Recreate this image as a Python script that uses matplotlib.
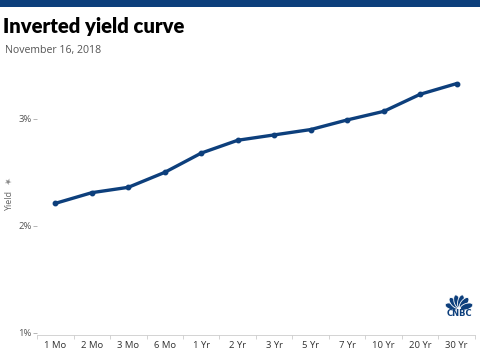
import matplotlib
matplotlib.use("Agg")
import matplotlib.pyplot as plt
from matplotlib.patches import Rectangle, Ellipse
import numpy as np

maturities = ["1 Mo", "2 Mo", "3 Mo", "6 Mo", "1 Yr", "2 Yr", "3 Yr", "5 Yr", "7 Yr", "10 Yr", "20 Yr", "30 Yr"]
yields = [2.21, 2.31, 2.36, 2.50, 2.68, 2.80, 2.85, 2.90, 2.99, 3.07, 3.23, 3.33]
ytick_vals = [1, 2, 3]
ytick_labels = ["1%", "2%", "3%"]
title = "Inverted yield curve"
subtitle = "November 16, 2018"

W, H = 480, 354
fig = plt.figure(figsize=(W / 100, H / 100), dpi=100)
fig.patch.set_facecolor("white")

# top bar
fig.patches.append(Rectangle((0, 1 - 7 / H), 1, 7 / H, transform=fig.transFigure,
                             facecolor="#0d3f7c", edgecolor="none"))

fig.text(3 / W, 1 - 27 / H, title, fontsize=14.6, fontweight="heavy", family="Lato",
         color="#000000", va="center", ha="left")
fig.text(5 / W, 1 - 50 / H, subtitle, fontsize=7.6, family="Open Sans",
         color="#555555", va="center", ha="left")

ax = fig.add_axes([37 / W, (H - 335) / H, (475 - 37) / W, (335 - 60) / H])
x = np.arange(len(maturities))
ax.plot(x, yields, color="#0d3f7c", lw=2.4, marker="o", ms=3.2,
        solid_capstyle="round", solid_joinstyle="round", zorder=3)
ax.set_xlim(-0.5, len(maturities) - 0.5)
ax.set_ylim(0.98, 3.55)

ax.set_xticks(x)
ax.set_xticklabels(maturities, fontsize=6.8, family="Open Sans", color="#333333")
ax.set_xticks(np.arange(-0.5, len(maturities), 1), minor=True)
ax.tick_params(axis="x", which="major", length=0, pad=4)
ax.tick_params(axis="x", which="minor", length=3, color="#cccccc", width=0.6)

ax.set_yticks(ytick_vals)
ax.set_yticklabels(ytick_labels, fontsize=6.8, family="Open Sans", color="#555555")
ax.tick_params(axis="y", length=3, color="#aaaaaa", width=0.6, pad=1)

for s in ["top", "right", "left"]:
    ax.spines[s].set_visible(False)
ax.spines["bottom"].set_color("#cccccc")
ax.spines["bottom"].set_linewidth(0.6)

fig.text(10 / W, 1 - 201 / H, "Yield", rotation=90, fontsize=6.5, family="Open Sans",
         color="#666666", va="center", ha="center")
fig.text(8.5 / W, 1 - 182 / H, "\u2605", rotation=45, fontsize=6, family="DejaVu Sans",
         color="#888888", va="center", ha="center")

# CNBC logo (approximate peacock)
cx, cy = 459, 304
logo_ax = fig.add_axes([(cx - 22) / W, (H - cy - 20) / H, 44 / W, 34 / H])
logo_ax.set_xlim(-22, 22)
logo_ax.set_ylim(-20, 14)
logo_ax.set_aspect("equal")
logo_ax.axis("off")
for ang in [162, 130, 104, 76, 50, 18]:
    r = 8
    a = np.deg2rad(ang)
    logo_ax.add_patch(Ellipse((r * np.cos(a), -5 + r * np.sin(a)), 13, 6.2, angle=ang,
                              facecolor="#0d3f7c", edgecolor="white", lw=0.6))
logo_ax.text(0, -10, "CNBC", fontsize=6, fontweight="heavy", family="DejaVu Sans",
             color="#0d3f7c", ha="center", va="center")

fig.savefig("out.png", dpi=100)
